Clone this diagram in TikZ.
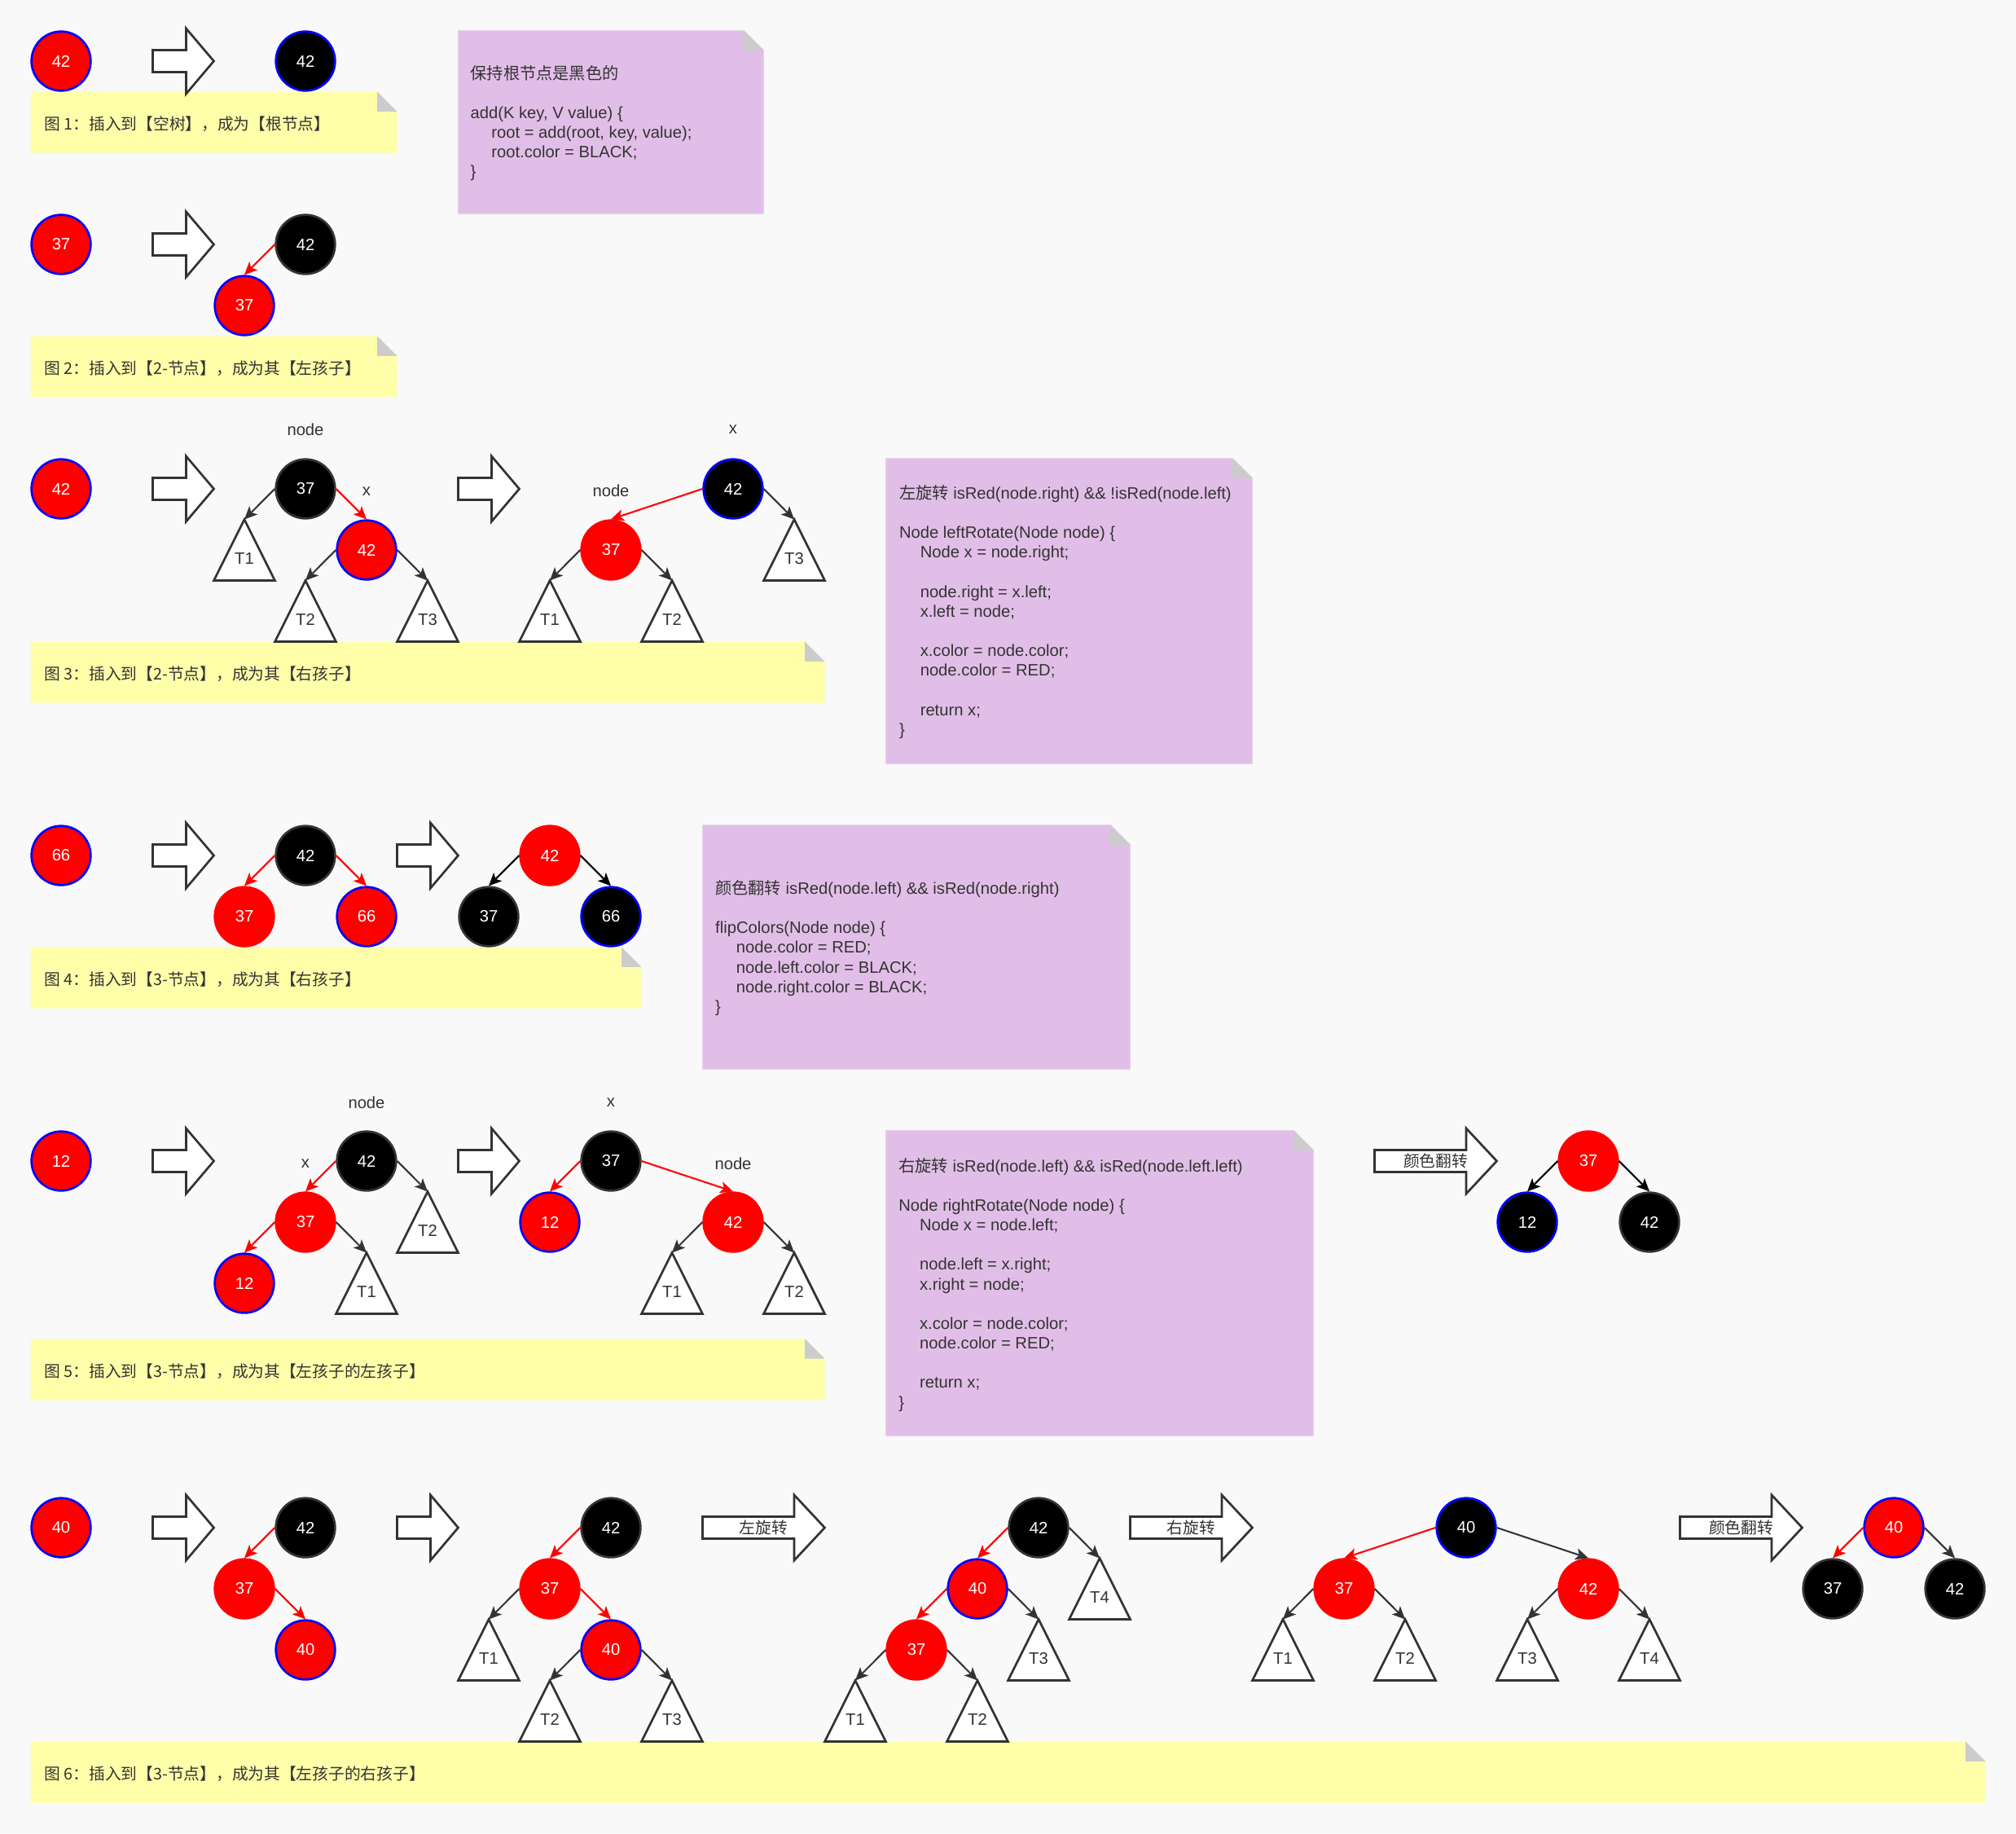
\documentclass[tikz,border=0pt]{standalone}
\usepackage{fontspec}
\setmainfont{Liberation Sans}
\newfontfamily\cjkf{Noto Sans CJK SC}
\usetikzlibrary{arrows.meta}
\definecolor{bgc}{HTML}{F9F9F9}
\definecolor{capy}{HTML}{FFFFAA}
\definecolor{notep}{HTML}{E1BEE7}
\definecolor{noteb}{HTML}{EBD3EE}
\definecolor{foldg}{HTML}{CCCCCC}
\definecolor{dk}{HTML}{333333}
\definecolor{rd}{HTML}{FF0000}
\definecolor{bl}{HTML}{0000FF}
\newcommand\labfont{\fontsize{12.8}{15.3}\selectfont}
\newcommand\capfont{\fontsize{12.5}{15}\selectfont}
\newcommand\ind{\hspace*{16.3pt}}
\tikzset{
  nd/.style={circle, minimum size=46pt, inner sep=0pt, line width=1.7pt, text=white, font=\labfont},
  rb/.style={nd, fill=rd, draw=bl},
  rr/.style={nd, fill=rd, draw=rd},
  kg/.style={nd, fill=black, draw=dk},
  kb/.style={nd, fill=black, draw=bl},
  link/.style={line width=1.3pt, -{Stealth[length=10pt,width=9pt,inset=2.5pt]}},
  re/.style={link, draw=rd},
  ge/.style={link, draw=dk},
  ke/.style={link, draw=black},
  tri/.style={draw=dk, fill=white, line width=1.7pt, line join=miter},
  tlab/.style={text=dk, font=\labfont, anchor=base, inner sep=0pt},
  lbl/.style={text=dk, font=\labfont, inner sep=0pt},
  barrow/.style={draw=dk, fill=white, line width=1.7pt, line join=miter},
  alab/.style={text=dk, font=\capfont, inner sep=0pt},
  captext/.style={text=dk, font=\capfont, anchor=base west, inner sep=0pt},
  notetext/.style={text=dk, font=\labfont, anchor=base west, align=left, inner sep=0pt},
  capbox/.style={fill=capy},
  notebox/.style={fill=notep, draw=noteb, line width=0.8pt},
}
\newcommand\foldbox[5]{%
  \path[#1] (#2,#3) -- (#4-0.324,#3) -- (#4,#3+0.324) -- (#4,#5) -- (#2,#5) -- cycle;
  \fill[foldg] (#4-0.324,#3) -- (#4-0.324,#3+0.324) -- (#4,#3+0.324) -- cycle;}
\newcommand\barr[2]{%
  \draw[barrow] (#1,#2-0.18) -- (#1+0.546,#2-0.18) -- (#1+0.546,#2-0.535) -- (#1+1,#2)
    -- (#1+0.546,#2+0.535) -- (#1+0.546,#2+0.18) -- (#1,#2+0.18) -- cycle;}
\newcommand\larr[4]{%
  \draw[barrow] (#2,#3-0.18) -- (#2+1.5,#3-0.18) -- (#2+1.5,#3-0.535) -- (#2+2,#3)
    -- (#2+1.5,#3+0.535) -- (#2+1.5,#3+0.18) -- (#2,#3+0.18) -- cycle;
  \node[alab] (#1) at (#2+1,#3) {\cjkf #4};}
\newcommand\tri[4]{%
  \coordinate (#1) at (#2,#3);
  \draw[tri] (#1) -- ++(0.5,1) -- ++(-1,0) -- cycle;
  \node[tlab] (#1l) at (#2,#3+0.735) {#4};}
\begin{document}
\begin{tikzpicture}[x=47.5pt,y=-47.5pt]
\fill[bgc] (0,0) rectangle (33,30);
\useasboundingbox (0,0) rectangle (33,30);

% ---------- captions ----------
\foldbox{capbox}{0.5}{1.5}{6.5}{2.5}
\node[captext] (cap1) at (0.722,2.127) {\cjkf 图 1：插入到【空树】，成为【根节点】};
\foldbox{capbox}{0.5}{5.5}{6.5}{6.5}
\node[captext] (cap2) at (0.722,6.127) {\cjkf 图 2：插入到【2-节点】，成为其【左孩子】};
\foldbox{capbox}{0.5}{10.5}{13.5}{11.5}
\node[captext] (cap3) at (0.722,11.127) {\cjkf 图 3：插入到【2-节点】，成为其【右孩子】};
\foldbox{capbox}{0.5}{15.5}{10.5}{16.5}
\node[captext] (cap4) at (0.722,16.127) {\cjkf 图 4：插入到【3-节点】，成为其【右孩子】};
\foldbox{capbox}{0.5}{21.91}{13.5}{22.91}
\node[captext] (cap5) at (0.722,22.535) {\cjkf 图 5：插入到【3-节点】，成为其【左孩子的左孩子】};
\foldbox{capbox}{0.5}{28.5}{32.5}{29.5}
\node[captext] (cap6) at (0.722,29.127) {\cjkf 图 6：插入到【3-节点】，成为其【左孩子的右孩子】};

% ---------- notes (anchor = baseline of the last line) ----------
\foldbox{notebox}{7.5}{0.5}{12.5}{3.5}
\node[notetext] (note1) at (7.697,2.905) {{\cjkf 保持根节点是黑色的}\\[15.3pt]
add(K key, V value) \{\\
\ind root = add(root, key, value);\\
\ind root.color = BLACK;\\
\}};

\foldbox{notebox}{14.5}{7.5}{20.5}{12.5}
\node[notetext] (note2) at (14.716,12.03) {{\cjkf 左旋转} isRed(node.right) \&\& !isRed(node.left)\\[15.3pt]
Node leftRotate(Node node) \{\\
\ind Node x = node.right;\\[15.3pt]
\ind node.right = x.left;\\
\ind x.left = node;\\[15.3pt]
\ind x.color = node.color;\\
\ind node.color = RED;\\[15.3pt]
\ind return x;\\
\}};

\foldbox{notebox}{11.5}{13.5}{18.5}{17.5}
\node[notetext] (note3) at (11.705,16.565) {{\cjkf 颜色翻转} isRed(node.left) \&\& isRed(node.right)\\[15.3pt]
flipColors(Node node) \{\\
\ind node.color = RED;\\
\ind node.left.color = BLACK;\\
\ind node.right.color = BLACK;\\
\}};

\foldbox{notebox}{14.5}{18.5}{21.5}{23.5}
\node[notetext] (note4) at (14.707,23.04) {{\cjkf 右旋转} isRed(node.left) \&\& isRed(node.left.left)\\[15.3pt]
Node rightRotate(Node node) \{\\
\ind Node x = node.left;\\[15.3pt]
\ind node.left = x.right;\\
\ind x.right = node;\\[15.3pt]
\ind x.color = node.color;\\
\ind node.color = RED;\\[15.3pt]
\ind return x;\\
\}};

% ---------- figure 1 ----------
\node[rb] (f1a) at (1,1) {42};
\barr{2.5}{1}
\node[kb] (f1b) at (5,1) {42};

% ---------- figure 2 ----------
\node[rb] (f2a) at (1,4) {37};
\barr{2.5}{4}
\node[kg] (f2b) at (5,4) {42};
\node[rb] (f2c) at (4,5) {37};
\draw[re] (f2b.west) -- (f2c.north);

% ---------- figure 3 ----------
\node[lbl] (f3l1) at (5,7.03) {node};
\node[lbl] (f3l2) at (12,7.03) {x};
\node[rb] (f3a) at (1,8) {42};
\barr{2.5}{8}
\node[kg] (f3b) at (5,8) {37};
\node[lbl] (f3l3) at (6,8.04) {x};
\node[rb] (f3c) at (6,9) {42};
\tri{f3t1}{4}{8.5}{T1}
\tri{f3t2}{5}{9.5}{T2}
\tri{f3t3}{7}{9.5}{T3}
\draw[ge] (f3b.west) -- (f3t1);
\draw[re] (f3b.east) -- (f3c.north);
\draw[ge] (f3c.west) -- (f3t2);
\draw[ge] (f3c.east) -- (f3t3);
\barr{7.5}{8}
\node[lbl] (f3l4) at (10,8.03) {node};
\node[kb] (f3d) at (12,8) {42};
\node[rr] (f3e) at (10,9) {37};
\tri{f3t4}{13}{8.5}{T3}
\tri{f3t5}{9}{9.5}{T1}
\tri{f3t6}{11}{9.5}{T2}
\draw[re] (f3d.west) -- (f3e.north);
\draw[ge] (f3d.east) -- (f3t4);
\draw[ge] (f3e.west) -- (f3t5);
\draw[ge] (f3e.east) -- (f3t6);

% ---------- figure 4 ----------
\node[rb] (f4a) at (1,14) {66};
\barr{2.5}{14}
\node[kg] (f4b) at (5,14) {42};
\node[rr] (f4c) at (4,15) {37};
\node[rb] (f4d) at (6,15) {66};
\draw[re] (f4b.west) -- (f4c.north);
\draw[re] (f4b.east) -- (f4d.north);
\barr{6.5}{14}
\node[rr] (f4e) at (9,14) {42};
\node[kg] (f4f) at (8,15) {37};
\node[kb] (f4g) at (10,15) {66};
\draw[ke] (f4e.west) -- (f4f.north);
\draw[ke] (f4e.east) -- (f4g.north);

% ---------- figure 5 ----------
\node[lbl] (f5l1) at (6,18.04) {node};
\node[lbl] (f5l2) at (10,18.04) {x};
\node[rb] (f5a) at (1,19) {12};
\barr{2.5}{19}
\node[kg] (f5b) at (6,19) {42};
\node[lbl] (f5l3) at (5,19.04) {x};
\node[rr] (f5c) at (5,20) {37};
\node[rb] (f5d) at (4,21) {12};
\tri{f5t1}{7}{19.5}{T2}
\tri{f5t2}{6}{20.5}{T1}
\draw[re] (f5b.west) -- (f5c.north);
\draw[ge] (f5b.east) -- (f5t1);
\draw[re] (f5c.west) -- (f5d.north);
\draw[ge] (f5c.east) -- (f5t2);
\barr{7.5}{19}
\node[kg] (f5e) at (10,19) {37};
\node[lbl] (f5l4) at (12,19.04) {node};
\node[rb] (f5f) at (9,20) {12};
\node[rr] (f5g) at (12,20) {42};
\tri{f5t3}{11}{20.5}{T1}
\tri{f5t4}{13}{20.5}{T2}
\draw[re] (f5e.west) -- (f5f.north);
\draw[re] (f5e.east) -- (f5g.north);
\draw[ge] (f5g.west) -- (f5t3);
\draw[ge] (f5g.east) -- (f5t4);
\larr{f5a1}{22.5}{19}{颜色翻转}
\node[rr] (f5h) at (26,19) {37};
\node[kb] (f5i) at (25,20) {12};
\node[kg] (f5j) at (27,20) {42};
\draw[ke] (f5h.west) -- (f5i.north);
\draw[ke] (f5h.east) -- (f5j.north);

% ---------- figure 6 ----------
\node[rb] (f6a) at (1,25) {40};
\barr{2.5}{25}
\node[kg] (f6b) at (5,25) {42};
\node[rr] (f6c) at (4,26) {37};
\node[rb] (f6d) at (5,27) {40};
\draw[re] (f6b.west) -- (f6c.north);
\draw[re] (f6c.east) -- (f6d.north);
\barr{6.5}{25}
\node[kg] (f6e) at (10,25) {42};
\node[rr] (f6f) at (9,26) {37};
\node[rb] (f6g) at (10,27) {40};
\tri{f6t1}{8}{26.5}{T1}
\tri{f6t2}{9}{27.5}{T2}
\tri{f6t3}{11}{27.5}{T3}
\draw[re] (f6e.west) -- (f6f.north);
\draw[ge] (f6f.west) -- (f6t1);
\draw[re] (f6f.east) -- (f6g.north);
\draw[ge] (f6g.west) -- (f6t2);
\draw[ge] (f6g.east) -- (f6t3);
\larr{f6a1}{11.5}{25}{左旋转}
\node[kg] (f6h) at (17,25) {42};
\node[rb] (f6i) at (16,26) {40};
\node[rr] (f6j) at (15,27) {37};
\tri{f6t4}{18}{25.5}{T4}
\tri{f6t5}{17}{26.5}{T3}
\tri{f6t6}{14}{27.5}{T1}
\tri{f6t7}{16}{27.5}{T2}
\draw[re] (f6h.west) -- (f6i.north);
\draw[ge] (f6h.east) -- (f6t4);
\draw[re] (f6i.west) -- (f6j.north);
\draw[ge] (f6i.east) -- (f6t5);
\draw[ge] (f6j.west) -- (f6t6);
\draw[ge] (f6j.east) -- (f6t7);
\larr{f6a2}{18.5}{25}{右旋转}
\node[kb] (f6k) at (24,25) {40};
\node[rr] (f6l) at (22,26) {37};
\node[rr] (f6m) at (26,26) {42};
\tri{f6t8}{21}{26.5}{T1}
\tri{f6t9}{23}{26.5}{T2}
\tri{f6t10}{25}{26.5}{T3}
\tri{f6t11}{27}{26.5}{T4}
\draw[re] (f6k.west) -- (f6l.north);
\draw[ge] (f6k.east) -- (f6m.north);
\draw[ge] (f6l.west) -- (f6t8);
\draw[ge] (f6l.east) -- (f6t9);
\draw[ge] (f6m.west) -- (f6t10);
\draw[ge] (f6m.east) -- (f6t11);
\larr{f6a3}{27.5}{25}{颜色翻转}
\node[rb] (f6n) at (31,25) {40};
\node[kg] (f6o) at (30,26) {37};
\node[kg] (f6p) at (32,26) {42};
\draw[re] (f6n.west) -- (f6o.north);
\draw[ge] (f6n.east) -- (f6p.north);
\end{tikzpicture}
\end{document}
